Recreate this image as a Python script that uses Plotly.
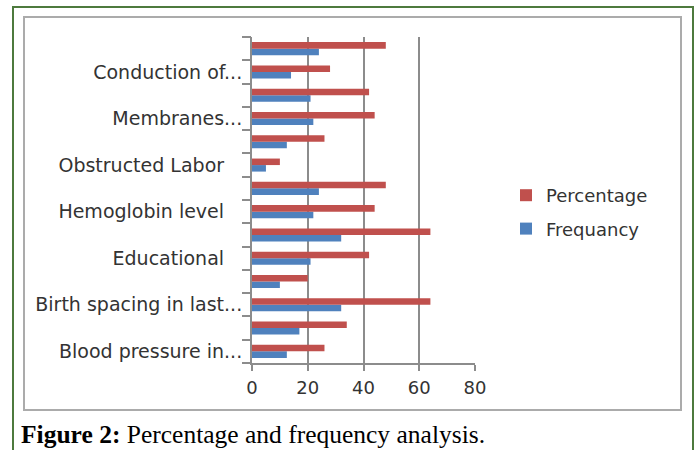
import plotly.graph_objects as go

# Category order bottom -> top (every other category labelled)
NB = "\u00a0"
tick_labels = ["Blood pressure in...", "", "Birth spacing in last...", "",
               "Educational" + NB * 3, "", "Hemoglobin level" + NB * 3, "",
               "Obstructed Labor" + NB * 3, "", "Membranes...", "", "Conduction of...", ""]
percentage = [26, 34, 64, 20, 42, 64, 44, 48, 10, 26, 44, 42, 28, 48]
frequancy = [12.5, 17, 32, 10, 21, 32, 22, 24, 5, 12.5, 22, 21, 14, 24]
x_ticks = [0, 20, 40, 60, 80]

W, H = 699, 450
L, R, T, B = 252, 475, 37, 363  # plot area pixel box


def px(x):
    return (x - L) / (R - L)


def py(y):
    return (B - y) / (B - T)


idx = list(range(len(tick_labels)))
lab_vals = [i for i, t in enumerate(tick_labels) if t]
lab_text = [t for t in tick_labels if t]

fig = go.Figure()
fig.add_trace(go.Bar(y=idx, x=frequancy, orientation="h", name="Frequancy",
                     marker=dict(color="#4F81BD", line=dict(width=0)),
                     legendgroup="f", legendrank=2))
fig.add_trace(go.Bar(y=idx, x=percentage, orientation="h", name="Percentage",
                     marker=dict(color="#C0504D", line=dict(width=0)),
                     legendgroup="p", legendrank=1))
# invisible trace for boundary tick axis
fig.add_trace(go.Scatter(x=[None], y=[None], yaxis="y2", showlegend=False))

axis_grey = "#8C8C8C"
font_sans = "DejaVu Sans"

fig.update_layout(
    width=W, height=H,
    margin=dict(l=L, r=W - R, t=T, b=H - B, pad=0),
    paper_bgcolor="white", plot_bgcolor="white",
    barmode="group", bargap=0.44, bargroupgap=0,
    xaxis=dict(range=[0, 80], tickvals=x_ticks, showgrid=True, gridcolor=axis_grey,
               gridwidth=2, zeroline=False, showline=True, linecolor=axis_grey,
               linewidth=2, ticks="outside", ticklen=6, tickwidth=1.5, tickcolor=axis_grey,
               tickfont=dict(family=font_sans, size=18, color="#333333"),
               ticklabelstandoff=1, fixedrange=True),
    yaxis=dict(range=[-0.5, len(idx) - 0.5], tickmode="array", tickvals=lab_vals,
               ticktext=lab_text, showgrid=False, zeroline=False, showline=True,
               linecolor=axis_grey, linewidth=2, ticks="",
               ticklabelstandoff=4,
               tickfont=dict(family=font_sans, size=19, color="#333333")),
    yaxis2=dict(overlaying="y", side="left", range=[-0.5, len(idx) - 0.5],
                tickvals=[i - 0.5 for i in range(len(idx) + 1)], ticks="outside",
                ticklen=9, tickwidth=1.5, tickcolor=axis_grey, showticklabels=False,
                showgrid=False, zeroline=False, showline=False),
    legend=dict(x=px(506), y=py(177), xanchor="left", yanchor="top",
                traceorder="grouped", tracegroupgap=7,
                font=dict(family=font_sans, size=18, color="#333333"),
                bgcolor="rgba(0,0,0,0)"),
    showlegend=True,
)

shapes = [
    dict(type="rect", xref="paper", yref="paper", x0=px(13), x1=px(693), y0=py(7), y1=py(460),
         line=dict(color="#4E7A3E", width=2), fillcolor="rgba(0,0,0,0)", layer="above"),
    dict(type="rect", xref="paper", yref="paper", x0=px(24), x1=px(681), y0=py(17), y1=py(410),
         line=dict(color="#ABABAB", width=2), fillcolor="rgba(0,0,0,0)", layer="above"),
]
fig.update_layout(shapes=shapes)

fig.add_annotation(xref="paper", yref="paper", x=px(19), y=py(434), xanchor="left",
                   yanchor="middle", showarrow=False,
                   text="<b>Figure 2:</b> Percentage and frequency analysis.",
                   font=dict(family="Liberation Serif", size=25.5, color="black"))

fig.write_html("out.html")
